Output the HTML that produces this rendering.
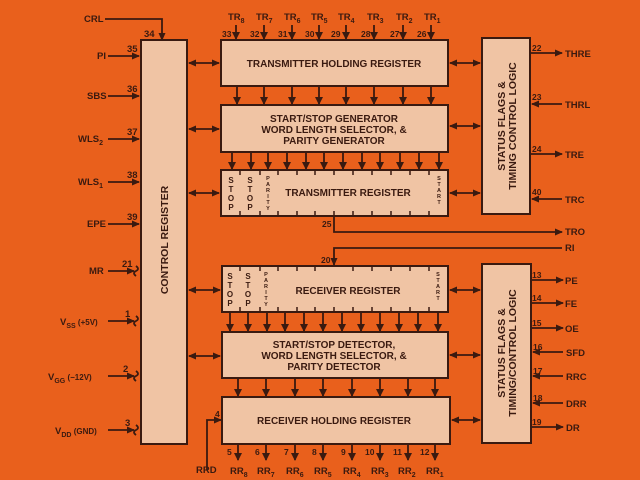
<!DOCTYPE html>
<html><head><meta charset="utf-8"><style>
html,body{margin:0;padding:0;background:#e9601c;}
svg{display:block;font-family:"Liberation Sans",sans-serif;font-weight:bold;}
</style></head><body>
<svg width="640" height="480" viewBox="0 0 640 480" xmlns="http://www.w3.org/2000/svg">
<defs>
<marker id="a" markerWidth="8" markerHeight="8" refX="7" refY="4" orient="auto" markerUnits="userSpaceOnUse"><path d="M0,0.5 L8,4 L0,7.5 Z" fill="#3a1a10"/></marker>
<marker id="b" markerWidth="8" markerHeight="8" refX="1" refY="4" orient="auto" markerUnits="userSpaceOnUse"><path d="M8,0.5 L0,4 L8,7.5 Z" fill="#3a1a10"/></marker>
</defs>
<rect width="640" height="480" fill="#e9601c"/>
<g fill="#f0c4a4" stroke="#3a1a10" stroke-width="2">
<rect x="141" y="40" width="46" height="404"/>
<rect x="221" y="40" width="227" height="46"/>
<rect x="221" y="105" width="227" height="47"/>
<rect x="221" y="170" width="227" height="46"/>
<rect x="482" y="38" width="48" height="176"/>
<rect x="222" y="266" width="226" height="46"/>
<rect x="222" y="332" width="226" height="46"/>
<rect x="222" y="397" width="228" height="47"/>
<rect x="482" y="264" width="49" height="179"/>
</g>
<g stroke="#3a1a10" stroke-width="1.8" fill="none">
<path d="M105,19 H162 V40" marker-end="url(#a)"/>
<path d="M108,56 H139" marker-end="url(#a)"/>
<path d="M108,96 H139" marker-end="url(#a)"/>
<path d="M108,139 H139" marker-end="url(#a)"/>
<path d="M108,182 H139" marker-end="url(#a)"/>
<path d="M108,224 H139" marker-end="url(#a)"/>
<path d="M108,271 H134" marker-end="url(#a)"/>
<path d="M108,321 H134" marker-end="url(#a)"/>
<path d="M108,376 H134" marker-end="url(#a)"/>
<path d="M108,430 H134" marker-end="url(#a)"/>
<path d="M136,266 q4,3 0,5 q-4,2 0,5 M136,316 q4,3 0,5 q-4,2 0,5 M136,371 q4,3 0,5 q-4,2 0,5 M136,425 q4,3 0,5 q-4,2 0,5"/>
<path d="M189,63 H219" marker-start="url(#b)" marker-end="url(#a)"/>
<path d="M189,129 H219" marker-start="url(#b)" marker-end="url(#a)"/>
<path d="M189,193 H219" marker-start="url(#b)" marker-end="url(#a)"/>
<path d="M189,290 H220" marker-start="url(#b)" marker-end="url(#a)"/>
<path d="M189,356 H220" marker-start="url(#b)" marker-end="url(#a)"/>
<path d="M450,63 H480" marker-start="url(#b)" marker-end="url(#a)"/>
<path d="M450,126 H480" marker-start="url(#b)" marker-end="url(#a)"/>
<path d="M450,193 H480" marker-start="url(#b)" marker-end="url(#a)"/>
<path d="M450,290 H480" marker-start="url(#b)" marker-end="url(#a)"/>
<path d="M450,355 H480" marker-start="url(#b)" marker-end="url(#a)"/>
<path d="M452,420 H480" marker-start="url(#b)" marker-end="url(#a)"/>
<path d="M236,25V39M264,25V39M292,25V39M319,25V39M346,25V39M374,25V39M403,25V39M431,25V39" />
<path d="M237,87V104M264,87V104M292,87V104M319,87V104M346,87V104M374,87V104M403,87V104M431,87V104"/>
<path d="M232,153V169M251,153V169M268,153V169M287,153V169M306,153V169M324,153V169M343,153V169M362,153V169M380,153V169M400,153V169M419,153V169M439,153V169"/>
<path d="M230,313V331M248,313V331M267,313V331M285,313V331M304,313V331M323,313V331M342,313V331M361,313V331M380,313V331M399,313V331M418,313V331M438,313V331"/>
<path d="M238,379V396M266,379V396M295,379V396M323,379V396M352,379V396M380,379V396M408,379V396M435,379V396"/>
<path d="M238,445V460M266,445V460M295,445V460M323,445V460M352,445V460M380,445V460M408,445V460M435,445V460"/>
<path d="M207,470V420H221" marker-end="url(#a)"/>
<path d="M334,217V232H562" marker-end="url(#a)"/>
<path d="M562,248H334V265" marker-end="url(#a)"/>
<path d="M531,53H562" marker-end="url(#a)"/>
<path d="M562,104H532" marker-end="url(#a)"/>
<path d="M531,154H562" marker-end="url(#a)"/>
<path d="M562,199H532" marker-end="url(#a)"/>
<path d="M532,280H563" marker-end="url(#a)"/>
<path d="M532,303H563" marker-end="url(#a)"/>
<path d="M532,328H563" marker-end="url(#a)"/>
<path d="M563,352H533" marker-end="url(#a)"/>
<path d="M563,376H533" marker-end="url(#a)"/>
<path d="M563,403H533" marker-end="url(#a)"/>
<path d="M532,427H563" marker-end="url(#a)"/>
<path stroke-width="1.5" d="M240,171v4M260,171v4M278,171v4M297,171v4M315,171v4M334,171v4M353,171v4M372,171v4M391,171v4M410,171v4M429,171v4 M240,215v-4M260,215v-4M278,215v-4M297,215v-4M315,215v-4M334,215v-4M353,215v-4M372,215v-4M391,215v-4M410,215v-4M429,215v-4"/>
<path stroke-width="1.5" d="M240,267v4M260,267v4M278,267v4M297,267v4M315,267v4M353,267v4M372,267v4M391,267v4M410,267v4M429,267v4 M240,311v-4M260,311v-4M278,311v-4M297,311v-4M315,311v-4M334,311v-4M353,311v-4M372,311v-4M391,311v-4M410,311v-4M429,311v-4"/>
</g>
<g fill="#3a1a10">
<path d="M236,40l-4,-8h8zM264,40l-4,-8h8zM292,40l-4,-8h8zM319,40l-4,-8h8zM346,40l-4,-8h8zM374,40l-4,-8h8zM403,40l-4,-8h8zM431,40l-4,-8h8z"/>
<path d="M237,105l-4,-8h8zM264,105l-4,-8h8zM292,105l-4,-8h8zM319,105l-4,-8h8zM346,105l-4,-8h8zM374,105l-4,-8h8zM403,105l-4,-8h8zM431,105l-4,-8h8z"/>
<path d="M232,170l-4,-8h8zM251,170l-4,-8h8zM268,170l-4,-8h8zM287,170l-4,-8h8zM306,170l-4,-8h8zM324,170l-4,-8h8zM343,170l-4,-8h8zM362,170l-4,-8h8zM380,170l-4,-8h8zM400,170l-4,-8h8zM419,170l-4,-8h8zM439,170l-4,-8h8z"/>
<path d="M230,332l-4,-8h8zM248,332l-4,-8h8zM267,332l-4,-8h8zM285,332l-4,-8h8zM304,332l-4,-8h8zM323,332l-4,-8h8zM342,332l-4,-8h8zM361,332l-4,-8h8zM380,332l-4,-8h8zM399,332l-4,-8h8zM418,332l-4,-8h8zM438,332l-4,-8h8z"/>
<path d="M238,397l-4,-8h8zM266,397l-4,-8h8zM295,397l-4,-8h8zM323,397l-4,-8h8zM352,397l-4,-8h8zM380,397l-4,-8h8zM408,397l-4,-8h8zM435,397l-4,-8h8z"/>
<path d="M238,461l-4,-8h8zM266,461l-4,-8h8zM295,461l-4,-8h8zM323,461l-4,-8h8zM352,461l-4,-8h8zM380,461l-4,-8h8zM408,461l-4,-8h8zM435,461l-4,-8h8z"/>
</g>
<g fill="#3a1a10" font-size="9.5">
<text x="84" y="22">CRL</text><text x="144" y="37">34</text>
<text x="97" y="59">PI</text><text x="127" y="52">35</text>
<text x="87" y="99">SBS</text><text x="127" y="92">36</text>
<text x="78" y="142">WLS<tspan font-size="7" dy="3">2</tspan></text><text x="127" y="135">37</text>
<text x="78" y="185">WLS<tspan font-size="7" dy="3">1</tspan></text><text x="127" y="178">38</text>
<text x="87" y="227">EPE</text><text x="127" y="220">39</text>
<text x="89" y="274">MR</text><text x="122" y="267">21</text>
<text x="60" y="325">V<tspan font-size="7" dy="3">SS</tspan><tspan dy="-3" font-size="8"> (+5V)</tspan></text><text x="125" y="317">1</text>
<text x="48" y="380">V<tspan font-size="7" dy="3">GG</tspan><tspan dy="-3" font-size="8"> (−12V)</tspan></text><text x="123" y="372">2</text>
<text x="55" y="434">V<tspan font-size="7" dy="3">DD</tspan><tspan dy="-3" font-size="8"> (GND)</tspan></text><text x="125" y="426">3</text>
<g>
<text x="228" y="20">TR<tspan font-size="7" dy="3">8</tspan></text><text x="256" y="20">TR<tspan font-size="7" dy="3">7</tspan></text>
<text x="284" y="20">TR<tspan font-size="7" dy="3">6</tspan></text><text x="311" y="20">TR<tspan font-size="7" dy="3">5</tspan></text>
<text x="338" y="20">TR<tspan font-size="7" dy="3">4</tspan></text><text x="367" y="20">TR<tspan font-size="7" dy="3">3</tspan></text>
<text x="396" y="20">TR<tspan font-size="7" dy="3">2</tspan></text><text x="424" y="20">TR<tspan font-size="7" dy="3">1</tspan></text>
</g>
<g font-size="8.5">
<text x="222" y="37">33</text><text x="250" y="37">32</text><text x="278" y="37">31</text><text x="305" y="37">30</text>
<text x="331" y="37">29</text><text x="361" y="37">28</text><text x="390" y="37">27</text><text x="417" y="37">26</text>
<text x="322" y="227">25</text><text x="321" y="263">20</text><text x="215" y="417">4</text>
<text x="227" y="455">5</text><text x="255" y="455">6</text><text x="284" y="455">7</text><text x="312" y="455">8</text>
<text x="341" y="455">9</text><text x="365" y="455">10</text><text x="393" y="455">11</text><text x="420" y="455">12</text>
<text x="532" y="51">22</text><text x="532" y="100">23</text><text x="532" y="152">24</text><text x="532" y="195">40</text>
<text x="532" y="278">13</text><text x="532" y="301">14</text><text x="532" y="326">15</text><text x="533" y="350">16</text>
<text x="533" y="374">17</text><text x="533" y="401">18</text><text x="532" y="425">19</text>
</g>
<text x="565" y="57">THRE</text><text x="565" y="108">THRL</text><text x="565" y="158">TRE</text><text x="565" y="203">TRC</text>
<text x="565" y="235">TRO</text><text x="565" y="251">RI</text>
<text x="565" y="284">PE</text><text x="565" y="307">FE</text><text x="565" y="332">OE</text><text x="566" y="356">SFD</text>
<text x="566" y="380">RRC</text><text x="566" y="407">DRR</text><text x="566" y="431">DR</text>
<text x="196" y="473">RRD</text>
<g>
<text x="230" y="474">RR<tspan font-size="7" dy="3">8</tspan></text><text x="257" y="474">RR<tspan font-size="7" dy="3">7</tspan></text>
<text x="286" y="474">RR<tspan font-size="7" dy="3">6</tspan></text><text x="314" y="474">RR<tspan font-size="7" dy="3">5</tspan></text>
<text x="343" y="474">RR<tspan font-size="7" dy="3">4</tspan></text><text x="371" y="474">RR<tspan font-size="7" dy="3">3</tspan></text>
<text x="398" y="474">RR<tspan font-size="7" dy="3">2</tspan></text><text x="426" y="474">RR<tspan font-size="7" dy="3">1</tspan></text>
</g>
<g text-anchor="middle" font-size="10">
<text x="334" y="67">TRANSMITTER HOLDING REGISTER</text>
<text x="334" y="122">START/STOP GENERATOR</text>
<text x="334" y="133">WORD LENGTH SELECTOR, &amp;</text>
<text x="334" y="144">PARITY GENERATOR</text>
<text x="348" y="196">TRANSMITTER REGISTER</text>
<text x="348" y="294">RECEIVER REGISTER</text>
<text x="334" y="348">START/STOP DETECTOR,</text>
<text x="334" y="359">WORD LENGTH SELECTOR, &amp;</text>
<text x="334" y="370">PARITY DETECTOR</text>
<text x="334" y="424">RECEIVER HOLDING REGISTER</text>
<text transform="translate(168,240) rotate(-90)" font-size="10.5">CONTROL REGISTER</text>
<text transform="translate(505,126) rotate(-90)" font-size="10.5">STATUS FLAGS &amp;</text>
<text transform="translate(516,126) rotate(-90)" font-size="10.5">TIMING CONTROL LOGIC</text>
<text transform="translate(505,353) rotate(-90)" font-size="10.5">STATUS FLAGS &amp;</text>
<text transform="translate(516,353) rotate(-90)" font-size="10.5">TIMING/CONTROL LOGIC</text>
</g>
<g text-anchor="middle" font-size="8">
<text x="231" y="183">S</text><text x="231" y="192">T</text><text x="231" y="201">O</text><text x="231" y="210">P</text>
<text x="250" y="183">S</text><text x="250" y="192">T</text><text x="250" y="201">O</text><text x="250" y="210">P</text>
<text x="230" y="279">S</text><text x="230" y="288">T</text><text x="230" y="297">O</text><text x="230" y="306">P</text>
<text x="248" y="279">S</text><text x="248" y="288">T</text><text x="248" y="297">O</text><text x="248" y="306">P</text>
</g>
<g text-anchor="middle" font-size="5.5">
<text x="268" y="180">P</text><text x="268" y="186">A</text><text x="268" y="192">R</text><text x="268" y="198">I</text><text x="268" y="204">T</text><text x="268" y="210">Y</text>
<text x="266" y="276">P</text><text x="266" y="282">A</text><text x="266" y="288">R</text><text x="266" y="294">I</text><text x="266" y="300">T</text><text x="266" y="306">Y</text>
<text x="439" y="180">S</text><text x="439" y="186">T</text><text x="439" y="192">A</text><text x="439" y="198">R</text><text x="439" y="204">T</text>
<text x="438" y="276">S</text><text x="438" y="282">T</text><text x="438" y="288">A</text><text x="438" y="294">R</text><text x="438" y="300">T</text>
</g>
</g>
</svg>
</body></html>
